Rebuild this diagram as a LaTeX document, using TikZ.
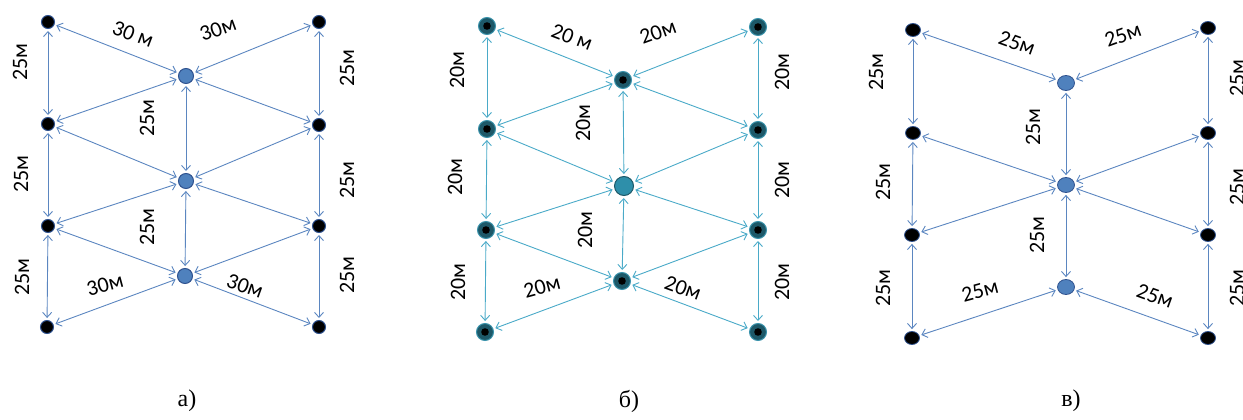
\documentclass[tikz,border=0pt]{standalone}
\usepackage{fontspec}
\setmainfont{Carlito}
\newfontfamily\capfont{Liberation Serif}
\usetikzlibrary{arrows.meta,shapes.geometric}
\definecolor{lineA}{HTML}{5B86C0}
\definecolor{lineB}{HTML}{4AAAC8}
\definecolor{blueN}{HTML}{4F81BD}
\definecolor{blueD}{HTML}{2F528F}
\definecolor{tealD}{HTML}{1D5868}
\definecolor{tealR}{HTML}{3A93AC}
\definecolor{tealF}{HTML}{2E8FAA}
\tikzset{
  tip/.tip={Straight Barb[length=5pt,width=9pt]},
  lnA/.style={draw=lineA, line width=0.9pt, {tip}-{tip}, shorten <=2pt, shorten >=2pt},
  lnB/.style={draw=lineB, line width=0.9pt, {tip}-{tip}, shorten <=2pt, shorten >=2pt},
  dotA/.style={circle, fill=black, draw=blueD, line width=1pt, minimum size=13pt, inner sep=0pt},
  cenA/.style={circle, fill=blueN, draw=blueD, line width=1pt, minimum size=15pt, inner sep=0pt},
  dotB/.style={circle, fill=tealD, draw=tealR, line width=1pt, minimum size=17pt, inner sep=0pt,
     path picture={\fill[black] (path picture bounding box.center) circle (3.8pt);}},
  cenB/.style={circle, fill=tealF, draw=tealD, line width=1pt, minimum size=19pt, inner sep=0pt},
  dotC/.style={ellipse, fill=black, draw=blueD, line width=0.8pt, minimum width=15pt, minimum height=13pt, inner sep=0pt},
  cenC/.style={ellipse, fill=blueN, draw=blueD, line width=0.8pt, minimum width=17pt, minimum height=15pt, inner sep=0pt},
  lbl/.style={font=\fontsize{22}{22}\selectfont, inner sep=0pt, text=black},
  captxt/.style={font=\capfont\fontsize{24}{24}\selectfont, inner sep=0pt},
}
\begin{document}
\begin{tikzpicture}[x=1pt,y=-1pt]
\useasboundingbox (0,0) rectangle (1243,420);
% ---------- panel a ----------
\node[dotA] (aL1) at (48,22) {};
\node[dotA] (aL2) at (48,124) {};
\node[dotA] (aL3) at (48,226) {};
\node[dotA] (aL4) at (47,327) {};
\node[dotA] (aR1) at (319,22) {};
\node[dotA] (aR2) at (319,125) {};
\node[dotA] (aR3) at (319,226) {};
\node[dotA] (aR4) at (319,327) {};
\node[cenA] (aC1) at (186,76) {};
\node[cenA] (aC2) at (186,181) {};
\node[cenA] (aC3) at (185,276) {};
\foreach \a/\b in {aL1/aL2,aL2/aL3,aL3/aL4,aR1/aR2,aR2/aR3,aR3/aR4,aC1/aC2,aC2/aC3,
  aL1/aC1,aC1/aR1,aL2/aC1,aC1/aR2,aL2/aC2,aC2/aR2,aL3/aC2,aC2/aR3,aL3/aC3,aC3/aR3,aL4/aC3,aC3/aR4}
  \draw[lnA] (\a) -- (\b);
\node[lbl,rotate=90] (aT1) at (20,62) {25м};
\node[lbl,rotate=90] (aT2) at (21,174) {25м};
\node[lbl,rotate=90] (aT3) at (22,277) {25м};
\node[lbl,rotate=90] (aT4) at (347,68) {25м};
\node[lbl,rotate=90] (aT5) at (347,180) {25м};
\node[lbl,rotate=90] (aT6) at (347,275) {25м};
\node[lbl,rotate=90] (aT7) at (147,118) {25м};
\node[lbl,rotate=90] (aT8) at (147,227) {25м};
\node[lbl,rotate=-21] (aT9) at (133,34) {30 м};
\node[lbl,rotate=20] (aT10) at (218,29) {30м};
\node[lbl,rotate=15] (aT11) at (105,285) {30м};
\node[lbl,rotate=-20] (aT12) at (245,286) {30м};
\node[captxt] (capA) at (187,401) {а)};
% ---------- panel b ----------
\node[dotB] (bL1) at (487,26) {};
\node[dotB] (bL2) at (487,129) {};
\node[dotB] (bL3) at (486,230) {};
\node[dotB] (bL4) at (485,332) {};
\node[dotB] (bR1) at (758,27) {};
\node[dotB] (bR2) at (758,130) {};
\node[dotB] (bR3) at (758,230) {};
\node[dotB] (bR4) at (758,332) {};
\node[dotB] (bC1) at (623,80) {};
\node[cenB] (bC2) at (624,186) {};
\node[dotB] (bC3) at (622,281) {};
\foreach \a/\b in {bL1/bL2,bL2/bL3,bL3/bL4,bR1/bR2,bR2/bR3,bR3/bR4,bC1/bC2,bC2/bC3,
  bL1/bC1,bC1/bR1,bL2/bC1,bC1/bR2,bL2/bC2,bC2/bR2,bL3/bC2,bC2/bR3,bL3/bC3,bC3/bR3,bL4/bC3,bC3/bR4}
  \draw[lnB] (\a) -- (\b);
\node[lbl,rotate=90] (bT1) at (457,70) {20м};
\node[lbl,rotate=90] (bT2) at (455,177) {20м};
\node[lbl,rotate=90] (bT3) at (458,282) {20м};
\node[lbl,rotate=90] (bT4) at (782,72) {20м};
\node[lbl,rotate=90] (bT5) at (782,180) {20м};
\node[lbl,rotate=90] (bT6) at (782,282) {20м};
\node[lbl,rotate=90] (bT7) at (583,123) {20м};
\node[lbl,rotate=90] (bT8) at (585,230) {20м};
\node[lbl,rotate=-21] (bT9) at (572,37) {20 м};
\node[lbl,rotate=20] (bT10) at (658,32) {20м};
\node[lbl,rotate=15] (bT11) at (542,287) {20м};
\node[lbl,rotate=-20] (bT12) at (683,288) {20м};
\node[captxt] (capB) at (629,401) {б)};
% ---------- panel c ----------
\node[dotC] (cL1) at (913,30) {};
\node[dotC] (cL2) at (913,133) {};
\node[dotC] (cL3) at (912,235) {};
\node[dotC] (cL4) at (912,338) {};
\node[dotC] (cR1) at (1208,28) {};
\node[dotC] (cR2) at (1208,133) {};
\node[dotC] (cR3) at (1208,235) {};
\node[dotC] (cR4) at (1208,338) {};
\node[cenC] (cC1) at (1066,83) {};
\node[cenC] (cC2) at (1066,185) {};
\node[cenC] (cC3) at (1066,287) {};
\foreach \a/\b in {cL1/cL2,cL2/cL3,cL3/cL4,cR1/cR2,cR2/cR3,cR3/cR4,cC1/cC2,cC2/cC3,
  cL1/cC1,cC1/cR1,cL2/cC2,cC2/cR2,cL3/cC2,cC2/cR3,cL4/cC3,cC3/cR4}
  \draw[lnA] (\a) -- (\b);
\node[lbl,rotate=90] (cT1) at (876,72) {25м};
\node[lbl,rotate=90] (cT2) at (883,182) {25м};
\node[lbl,rotate=90] (cT3) at (883,288) {25м};
\node[lbl,rotate=90] (cT4) at (1237,78) {25м};
\node[lbl,rotate=90] (cT5) at (1237,187) {25м};
\node[lbl,rotate=90] (cT6) at (1237,288) {25м};
\node[lbl,rotate=90] (cT7) at (1033,127) {25м};
\node[lbl,rotate=90] (cT8) at (1037,235) {25м};
\node[lbl,rotate=-20] (cT9) at (1017,43) {25м};
\node[lbl,rotate=20] (cT10) at (1123,35) {25м};
\node[lbl,rotate=15] (cT11) at (980,291) {25м};
\node[lbl,rotate=-20] (cT12) at (1155,296) {25м};
\node[captxt] (capC) at (1071,401) {в)};
\end{tikzpicture}
\end{document}
